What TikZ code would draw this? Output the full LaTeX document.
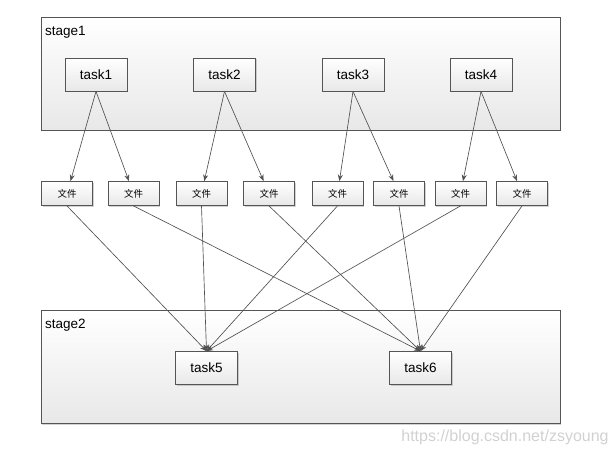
\documentclass[tikz,border=0pt]{standalone}
\usepackage{fontspec}
\setmainfont{Liberation Sans}
\newfontfamily\cjk{Noto Sans CJK SC}
\usetikzlibrary{arrows.meta,shadows}
\definecolor{edge}{HTML}{505050}
\definecolor{boxline}{HTML}{555555}
\tikzset{
  boxbase/.style={draw=boxline, line width=0.8pt, top color=white, bottom color=black!9,
    inner sep=0pt, drop shadow={shadow xshift=1pt, shadow yshift=-1pt, opacity=0.35}},
  stagebox/.style={boxbase, minimum width=519pt, minimum height=113pt},
  taskbox/.style={boxbase, minimum width=62pt, minimum height=33pt, font=\fontsize{13.5}{15}\selectfont},
  filebox/.style={boxbase, minimum width=51pt, minimum height=24pt, font=\cjk\fontsize{9.5}{11}\selectfont},
  conn/.style={draw=edge, line width=0.65pt, -{Stealth[length=6.5pt,width=5pt]}},
  stagelabel/.style={anchor=base west, inner sep=0pt, font=\fontsize{13.5}{15}\selectfont}
}
\begin{document}
\begin{tikzpicture}[x=1pt,y=-1pt]
\useasboundingbox (0,0) rectangle (616,455);
\node[stagebox] (s1) at (300.5,73.5) {};
\node[stagebox] (s2) at (300.5,367) {};
\node[stagelabel] (s1l) at (45,35) {stage1};
\node[stagelabel] (s2l) at (45,328) {stage2};

\node[taskbox] (t1) at (96,74.5) {task1};
\node[taskbox] (t2) at (224.5,74.5) {task2};
\node[taskbox] (t3) at (353,74.5) {task3};
\node[taskbox] (t4) at (481,74.5) {task4};
\node[taskbox] (t5) at (206.5,368) {task5};
\node[taskbox] (t6) at (420.5,368) {task6};

\foreach \i/\x in {1/67,2/133.5,3/201.5,4/269,5/337.5,6/399,7/460.5,8/522}
  \node[filebox] (f\i) at (\x,193.5) {文件};

\draw[conn] (t1.south) -- (f1);
\draw[conn] (t1.south) -- (f2);
\draw[conn] (t2.south) -- (f3);
\draw[conn] (t2.south) -- (f4);
\draw[conn] (t3.south) -- (f5);
\draw[conn] (t3.south) -- (f6);
\draw[conn] (t4.south) -- (f7);
\draw[conn] (t4.south) -- (f8);

\foreach \i in {1,3,5,7} \draw[conn] (f\i.south) -- (t5.north);
\foreach \i in {2,4,6,8} \draw[conn] (f\i.south) -- (t6.north);

\node[text=black!18, font=\fontsize{16}{18}\selectfont, inner sep=0pt] (wm) at (505,437) {https://blog.csdn.net/zsyoung};
\end{tikzpicture}
\end{document}
